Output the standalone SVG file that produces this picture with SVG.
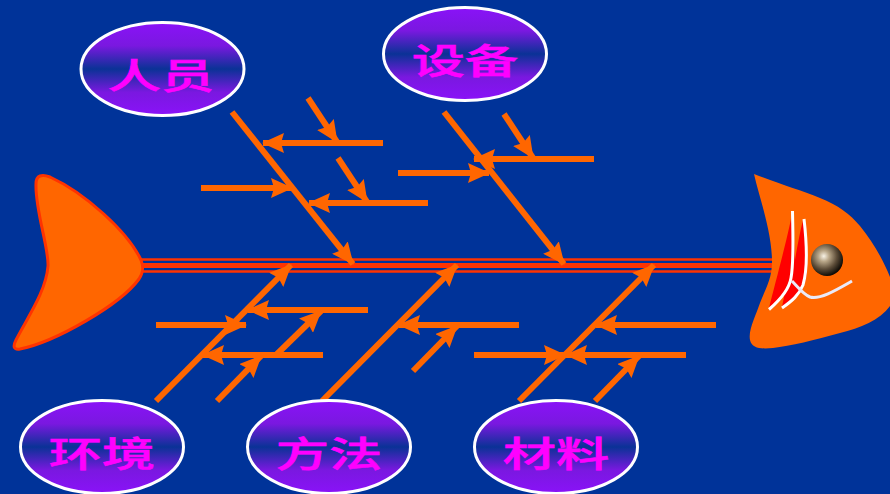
<svg xmlns="http://www.w3.org/2000/svg" width="890" height="494" viewBox="0 0 890 494">
  <style>
    .bg { fill: #003399; }
    .spine { stroke: #ff3300; fill: none; }
    .bone { stroke: #ff6600; stroke-width: 6; fill: none; marker-end: url(#head); }
    .cap ellipse { fill: url(#capFill); stroke: #ffffff; stroke-width: 3; }
    .cap text { font-family: "Noto Sans CJK SC", "Noto Sans", sans-serif; font-weight: 500; font-size: 35px; fill: #ff00ff; stroke: #ff00ff; stroke-width: 0.6; text-anchor: middle; }
    .gill { fill: none; stroke: #ffffff; stroke-width: 3; stroke-linecap: butt; }
  </style>
  <defs>
    <marker id="head" viewBox="0 0 22 20" refX="21" refY="10" markerWidth="22" markerHeight="20" markerUnits="userSpaceOnUse" orient="auto">
      <path d="M0 0 L22 10 L0 20 L3 10 Z" fill="#ff6600"/>
    </marker>
    <linearGradient id="capFill" x1="0" y1="0" x2="0" y2="1">
      <stop offset="0" stop-color="#8a12f8"/>
      <stop offset="0.25" stop-color="#7a18e0"/>
      <stop offset="0.5" stop-color="#0a3296"/>
      <stop offset="0.75" stop-color="#7a18e0"/>
      <stop offset="1" stop-color="#8a12f8"/>
    </linearGradient>
    <radialGradient id="eyeFill" cx="0.4" cy="0.38" r="0.68">
      <stop offset="0" stop-color="#f8f2e6"/>
      <stop offset="0.25" stop-color="#b8a688"/>
      <stop offset="0.6" stop-color="#5c4c38"/>
      <stop offset="0.9" stop-color="#14100a"/>
      <stop offset="1" stop-color="#000000"/>
    </radialGradient>
  </defs>

  <rect class="bg" width="890" height="494"/>

  <g id="spine">
    <line class="spine" x1="140" y1="259.500" x2="775" y2="259.500" stroke-width="2.500"/>
    <line class="spine" x1="140" y1="265.500" x2="775" y2="265.500" stroke-width="5"/>
    <line class="spine" x1="140" y1="271.500" x2="775" y2="271.500" stroke-width="2.500"/>
  </g>

  <g id="connectors">
    <!-- upper ribs -->
    <line class="bone" x1="232" y1="112" x2="353" y2="264"/>
    <line class="bone" x1="383" y1="143" x2="263" y2="143"/>
    <line class="bone" x1="308" y1="98" x2="337" y2="142"/>
    <line class="bone" x1="201" y1="188" x2="292" y2="188"/>
    <line class="bone" x1="428" y1="203" x2="309" y2="203"/>
    <line class="bone" x1="338" y1="158" x2="367" y2="202"/>
    <line class="bone" x1="444" y1="112" x2="564" y2="264"/>
    <line class="bone" x1="594" y1="159" x2="474" y2="159"/>
    <line class="bone" x1="504" y1="114" x2="533" y2="158"/>
    <line class="bone" x1="398" y1="173" x2="489" y2="173"/>
    <!-- lower ribs -->
    <line class="bone" x1="156" y1="401" x2="291" y2="265"/>
    <line class="bone" x1="368" y1="310" x2="248" y2="310"/>
    <line class="bone" x1="276" y1="355" x2="321" y2="311"/>
    <line class="bone" x1="156" y1="325" x2="246" y2="325"/>
    <line class="bone" x1="323" y1="355" x2="203" y2="355"/>
    <line class="bone" x1="217" y1="401" x2="261" y2="356"/>
    <line class="bone" x1="322" y1="401" x2="457" y2="265"/>
    <line class="bone" x1="519" y1="325" x2="399" y2="325"/>
    <line class="bone" x1="413" y1="371" x2="457" y2="326"/>
    <line class="bone" x1="519" y1="401" x2="654" y2="265"/>
    <line class="bone" x1="716" y1="325" x2="596" y2="325"/>
    <line class="bone" x1="686" y1="355" x2="566" y2="355"/>
    <line class="bone" x1="474" y1="355" x2="565" y2="355"/>
    <line class="bone" x1="595" y1="401" x2="639" y2="356"/>
  </g>

  <g id="tail">
    <path d="M36 184 C36 175 42 174 50 177 C85 193 128 232 141 260 C144 268 143 273 139 279 C120 305 55 342 20 349 C13 350 13 346 16 340 C27 318 46 292 48 266 C49 248 35 210 36 184 Z" fill="#ff6600" stroke="#ff3300" stroke-width="3"/>
  </g>

  <g id="head-fish">
    <path d="M754 174 C780 184 800 190 820 198 C838 205 850 214 860 226 C874 243 884 262 890 277 L890 306 C880 320 860 328 840 333 C815 340 790 346 773 348 C762 349 752 349 750 340 C748 330 756 315 760 303 C766 288 772 278 772 262 C772 232 760 200 754 174 Z" fill="#ff6600"/>
    <path d="M792 214 C787 240 776 280 769 308 L785 292 L782 307 L800 293 C805 285 808 275 807 262 C807 248 806 232 803 220 C800 232 797 248 795 260 C794 245 794 228 792 214 Z" fill="#ff0000"/>
    <path class="gill" d="M792.500 211 C793 240 794 262 791 278 C789 290 780 300 769 309.500"/>
    <path class="gill" d="M804 219 C807 245 808 268 803 285 C799 295 792 301 782 308"/>
    <path d="M792 281 C798 287 803 294 810 297 C820 300 838 289 852 281" fill="none" stroke="#eaeaf8" stroke-width="3"/>
    <circle cx="827" cy="260" r="16" fill="url(#eyeFill)"/>
  </g>

  <g id="cause-people" class="cap">
    <ellipse cx="162.500" cy="69" rx="81.500" ry="46.500"/>
    <text transform="translate(161 89) scale(1.52 1)">人员</text>
  </g>
  <g id="cause-equipment" class="cap">
    <ellipse cx="465" cy="54" rx="81.500" ry="46.500"/>
    <text transform="translate(465 74) scale(1.52 1)">设备</text>
  </g>
  <g id="cause-environment" class="cap">
    <ellipse cx="102" cy="447" rx="81.500" ry="46.500"/>
    <text transform="translate(102 467) scale(1.52 1)">环境</text>
  </g>
  <g id="cause-method" class="cap">
    <ellipse cx="329" cy="447" rx="81.500" ry="46.500"/>
    <text transform="translate(329 467) scale(1.52 1)">方法</text>
  </g>
  <g id="cause-material" class="cap">
    <ellipse cx="556" cy="447" rx="81.500" ry="46.500"/>
    <text transform="translate(556 467) scale(1.52 1)">材料</text>
  </g>
</svg>
